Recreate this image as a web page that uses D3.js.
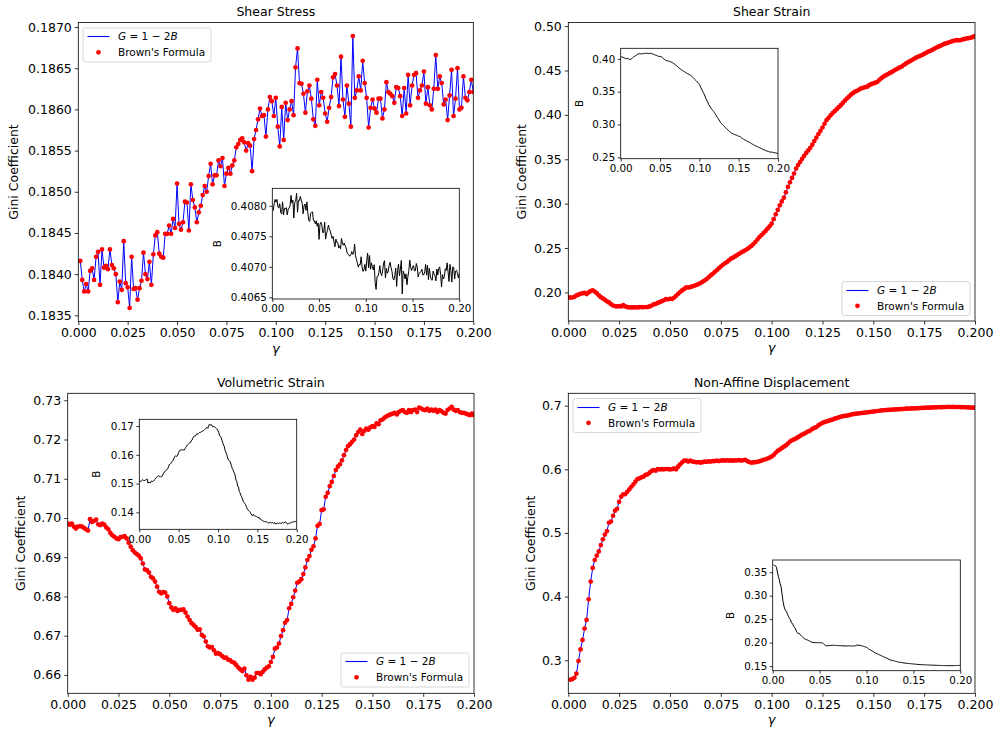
<!DOCTYPE html>
<html><head><meta charset="utf-8">
<script src="https://cdn.jsdelivr.net/npm/d3@7"></script>
<style>body{margin:0;background:#fff;} svg text{font-family:"DejaVu Sans",sans-serif;}</style>
</head><body>
<script>
// ---------------- DATA ----------------
const strainStep = 0.001;
const titles = ["Shear Stress", "Shear Strain", "Volumetric Strain", "Non-Affine Displacement"];
const legendLabels = ["G = 1 \u2212 2B", "Brown's Formula"];
const xLabel = "\u03B3";
const yLabel = "Gini Coefficient";
const insetYLabel = "B";

// Gini coefficient, panel 1 (strain 0.001 .. 0.200)
const shearStressG = [
0.18416,0.18393,0.18379,0.18388,0.18379,0.18404,0.18407,0.18393,0.18421,0.18427,
0.18387,0.18430,0.18408,0.18410,0.18406,0.18430,0.18411,0.18407,0.18400,0.18366,
0.18391,0.18381,0.18440,0.18389,0.18384,0.18359,0.18421,0.18382,0.18383,0.18369,
0.18383,0.18392,0.18426,0.18400,0.18394,0.18415,0.18387,0.18424,0.18447,0.18451,
0.18425,0.18421,0.18420,0.18449,0.18449,0.18459,0.18449,0.18467,0.18456,0.18510,
0.18461,0.18454,0.18463,0.18488,0.18487,0.18453,0.18509,0.18490,0.18481,0.18463,
0.18475,0.18483,0.18496,0.18507,0.18500,0.18519,0.18534,0.18509,0.18520,0.18520,
0.18538,0.18531,0.18541,0.18507,0.18522,0.18529,0.18522,0.18532,0.18538,0.18554,
0.18558,0.18563,0.18565,0.18560,0.18550,0.18559,0.18556,0.18525,0.18564,0.18575,
0.18588,0.18601,0.18592,0.18593,0.18567,0.18600,0.18615,0.18610,0.18592,0.18614,
0.18579,0.18555,0.18603,0.18563,0.18608,0.18587,0.18600,0.18610,0.18593,0.18651,
0.18674,0.18632,0.18631,0.18619,0.18596,0.18622,0.18629,0.18613,0.18588,0.18580,
0.18636,0.18605,0.18621,0.18614,0.18595,0.18585,0.18602,0.18615,0.18639,0.18643,
0.18629,0.18604,0.18664,0.18612,0.18591,0.18629,0.18607,0.18579,0.18689,0.18614,
0.18623,0.18640,0.18623,0.18659,0.18632,0.18614,0.18578,0.18602,0.18612,0.18601,
0.18596,0.18613,0.18613,0.18589,0.18600,0.18633,0.18621,0.18619,0.18616,0.18608,
0.18627,0.18626,0.18616,0.18592,0.18626,0.18595,0.18642,0.18605,0.18629,0.18642,
0.18644,0.18614,0.18623,0.18629,0.18646,0.18607,0.18627,0.18605,0.18600,0.18625,
0.18666,0.18625,0.18640,0.18632,0.18606,0.18612,0.18587,0.18617,0.18648,0.18592,
0.18613,0.18650,0.18600,0.18602,0.18640,0.18614,0.18611,0.18621,0.18636,0.18621];

// Gini coefficient, panel 2 (strain 0.000 .. 0.200)
const shearStrainG = [
0.1944,0.1942,0.1943,0.1950,0.1966,0.1975,0.1985,0.1990,0.1996,0.1982,
0.2000,0.2015,0.2023,0.2010,0.1992,0.1968,0.1947,0.1932,0.1917,0.1900,
0.1887,0.1868,0.1853,0.1846,0.1842,0.1845,0.1842,0.1857,0.1842,0.1835,
0.1831,0.1832,0.1831,0.1833,0.1831,0.1834,0.1835,0.1833,0.1836,0.1835,
0.1842,0.1853,0.1865,0.1872,0.1883,0.1890,0.1902,0.1912,0.1925,0.1922,
0.1929,0.1927,0.1940,0.1962,0.1985,0.2005,0.2023,0.2040,0.2056,0.2055,
0.2060,0.2068,0.2075,0.2085,0.2094,0.2105,0.2120,0.2133,0.2150,0.2170,
0.2192,0.2210,0.2229,0.2250,0.2271,0.2292,0.2312,0.2328,0.2342,0.2362,
0.2380,0.2392,0.2406,0.2420,0.2436,0.2450,0.2462,0.2475,0.2489,0.2505,
0.2523,0.2545,0.2568,0.2596,0.2624,0.2646,0.2669,0.2693,0.2718,0.2745,
0.2774,0.2825,0.2880,0.2930,0.2981,0.3025,0.3068,0.3128,0.3188,0.3240,
0.3290,0.3340,0.3395,0.3435,0.3470,0.3505,0.3540,0.3572,0.3600,0.3630,
0.3665,0.3705,0.3745,0.3785,0.3820,0.3858,0.3900,0.3940,0.3968,0.3995,
0.4020,0.4042,0.4064,0.4087,0.4110,0.4135,0.4160,0.4184,0.4205,0.4228,
0.4245,0.4262,0.4272,0.4285,0.4298,0.4305,0.4312,0.4318,0.4335,0.4346,
0.4355,0.4363,0.4372,0.4395,0.4414,0.4430,0.4445,0.4458,0.4470,0.4481,
0.4497,0.4510,0.4522,0.4535,0.4545,0.4562,0.4578,0.4592,0.4605,0.4618,
0.4632,0.4645,0.4655,0.4665,0.4675,0.4688,0.4700,0.4712,0.4722,0.4732,
0.4745,0.4758,0.4768,0.4778,0.4790,0.4800,0.4808,0.4815,0.4824,0.4832,
0.4838,0.4842,0.4840,0.4843,0.4850,0.4856,0.4861,0.4865,0.4870,0.4878,
0.4888];

// Gini coefficient, panel 3 (strain 0.000 .. 0.200)
const volumetricStrainG = [
0.6986,0.6983,0.6986,0.6978,0.6973,0.6978,0.6979,0.6978,0.6975,0.6971,
0.6968,0.6997,0.6990,0.6993,0.6996,0.6984,0.6982,0.6986,0.6983,0.6976,
0.6971,0.6962,0.6956,0.6952,0.6948,0.6946,0.6951,0.6952,0.6954,0.6948,
0.6937,0.6927,0.6918,0.6912,0.6908,0.6904,0.6897,0.6884,0.6869,0.6867,
0.6861,0.6850,0.6846,0.6838,0.6825,0.6812,0.6808,0.6811,0.6810,0.6800,
0.6783,0.6772,0.6766,0.6770,0.6763,0.6766,0.6766,0.6767,0.6759,0.6749,
0.6740,0.6732,0.6727,0.6722,0.6715,0.6716,0.6702,0.6698,0.6685,0.6673,
0.6670,0.6671,0.6663,0.6654,0.6656,0.6653,0.6648,0.6644,0.6644,0.6639,
0.6637,0.6633,0.6631,0.6625,0.6619,0.6614,0.6610,0.6616,0.6599,0.6588,
0.6595,0.6588,0.6593,0.6605,0.6605,0.6602,0.6608,0.6614,0.6619,0.6622,
0.6633,0.6646,0.6667,0.6670,0.6680,0.6699,0.6714,0.6733,0.6740,0.6770,
0.6781,0.6798,0.6815,0.6835,0.6838,0.6844,0.6857,0.6874,0.6893,0.6903,
0.6919,0.6928,0.6948,0.6980,0.6985,0.7020,0.7022,0.7054,0.7064,0.7081,
0.7092,0.7107,0.7122,0.7131,0.7137,0.7147,0.7160,0.7173,0.7183,0.7188,
0.7194,0.7200,0.7211,0.7219,0.7225,0.7214,0.7222,0.7228,0.7225,0.7231,
0.7234,0.7232,0.7241,0.7239,0.7249,0.7251,0.7256,0.7259,0.7262,0.7264,
0.7266,0.7268,0.7264,0.7270,0.7273,0.7275,0.7270,0.7268,0.7275,0.7270,
0.7275,0.7276,0.7270,0.7281,0.7279,0.7276,0.7275,0.7279,0.7273,0.7276,
0.7273,0.7276,0.7270,0.7275,0.7272,0.7268,0.7266,0.7275,0.7279,0.7283,
0.7276,0.7273,0.7275,0.7270,0.7268,0.7268,0.7266,0.7264,0.7262,0.7266,
0.7262];

// Gini coefficient, panel 4 (strain 0.001 .. 0.200)
const nonAffineG = [
0.2695,0.2705,0.2725,0.2790,0.2990,0.3170,0.3319,0.3497,0.3634,0.3958,
0.4236,0.4450,0.4575,0.4645,0.4710,0.4810,0.4900,0.4975,0.5030,0.5160,
0.5180,0.5270,0.5350,0.5380,0.5490,0.5570,0.5605,0.5611,0.5647,0.5684,
0.5726,0.5763,0.5805,0.5847,0.5858,0.5874,0.5884,0.5911,0.5921,0.5947,
0.5974,0.5989,0.5979,0.6005,0.5998,0.6002,0.5998,0.6005,0.6003,0.5998,
0.6001,0.6016,0.6000,0.6042,0.6079,0.6111,0.6137,0.6135,0.6121,0.6137,
0.6121,0.6118,0.6110,0.6115,0.6105,0.6112,0.6120,0.6118,0.6125,0.6122,
0.6130,0.6128,0.6135,0.6130,0.6138,0.6140,0.6135,0.6142,0.6138,0.6140,
0.6135,0.6142,0.6140,0.6145,0.6138,0.6142,0.6147,0.6130,0.6115,0.6105,
0.6108,0.6112,0.6118,0.6125,0.6135,0.6150,0.6158,0.6170,0.6185,0.6200,
0.6225,0.6260,0.6290,0.6310,0.6332,0.6355,0.6375,0.6405,0.6435,0.6455,
0.6470,0.6485,0.6505,0.6525,0.6545,0.6560,0.6578,0.6595,0.6610,0.6635,
0.6650,0.6663,0.6690,0.6712,0.6730,0.6742,0.6753,0.6762,0.6772,0.6782,
0.6795,0.6805,0.6815,0.6826,0.6835,0.6838,0.6843,0.6850,0.6860,0.6866,
0.6870,0.6875,0.6880,0.6883,0.6888,0.6892,0.6895,0.6900,0.6904,0.6907,
0.6912,0.6916,0.6920,0.6925,0.6928,0.6930,0.6933,0.6935,0.6937,0.6940,
0.6941,0.6943,0.6945,0.6947,0.6949,0.6952,0.6953,0.6955,0.6956,0.6957,
0.6958,0.6960,0.6962,0.6964,0.6966,0.6968,0.6969,0.6970,0.6972,0.6973,
0.6974,0.6975,0.6976,0.6977,0.6978,0.6979,0.6980,0.6979,0.6980,0.6979,
0.6978,0.6979,0.6977,0.6976,0.6975,0.6974,0.6973,0.6970,0.6969,0.6968];

// Tick labels
const mainXTicks = [0, 0.025, 0.05, 0.075, 0.1, 0.125, 0.15, 0.175, 0.2];
const insetXTicks = [0, 0.05, 0.1, 0.15, 0.2];
const yTicks1 = [0.1835, 0.1840, 0.1845, 0.1850, 0.1855, 0.1860, 0.1865, 0.1870];
const yTicks2 = [0.20, 0.25, 0.30, 0.35, 0.40, 0.45, 0.50];
const yTicks3 = [0.66, 0.67, 0.68, 0.69, 0.70, 0.71, 0.72, 0.73];
const yTicks4 = [0.3, 0.4, 0.5, 0.6, 0.7];
const insetYTicks1 = [0.4065, 0.4070, 0.4075, 0.4080];
const insetYTicks2 = [0.25, 0.30, 0.35, 0.40];
const insetYTicks3 = [0.14, 0.15, 0.16, 0.17];
const insetYTicks4 = [0.15, 0.20, 0.25, 0.30, 0.35];

// ---------------- LAYOUT ----------------
const panels = [
  {id:1, title:titles[0], G:shearStressG, start:1, left:78.3, right:473.3, top:22.5, bottom:321.5,
   yTicks:yTicks1, yFmt:".4f", yLabelX:13, legend:{x:83, y:28},
   inset:{left:272.3, right:459.3, top:188.3, bottom:299, yTicks:insetYTicks1, yFmt:".4f", labX:217}},
  {id:2, title:titles[1], G:shearStrainG, start:0, left:568.3, right:975, top:22.5, bottom:321,
   yTicks:yTicks2, yFmt:".2f", yLabelX:521, legend:{x:842, y:281.5},
   inset:{left:620.7, right:778, top:48.3, bottom:158.7, yTicks:insetYTicks2, yFmt:".2f", labX:579.5}},
  {id:3, title:titles[2], G:volumetricStrainG, start:0, left:67.7, right:474, top:393.3, bottom:693.3,
   yTicks:yTicks3, yFmt:".2f", yLabelX:20, legend:{x:341, y:653},
   inset:{left:139.3, right:296.7, top:419.3, bottom:529.3, yTicks:insetYTicks3, yFmt:".2f", labX:96.5}},
  {id:4, title:titles[3], G:nonAffineG, start:1, left:568.3, right:975, top:393.3, bottom:693.3,
   yTicks:yTicks4, yFmt:".1f", yLabelX:530, legend:{x:573, y:398.5},
   inset:{left:772.7, right:960.3, top:560, bottom:670.7, yTicks:insetYTicks4, yFmt:".2f", labX:730}}
];

const FONT = "DejaVu Sans";
const svg = d3.select("body").append("svg").attr("width", 995).attr("height", 731)
  .style("display", "block");
svg.append("rect").attr("width", 995).attr("height", 731).attr("fill", "#fff");
const defs = svg.append("defs");

function styleAxis(g, fs) {
  g.attr("font-family", FONT).attr("font-size", fs);
  g.select(".domain").remove();
  g.selectAll(".tick line").attr("stroke", "#000").attr("stroke-width", 0.8);
  g.selectAll(".tick text").attr("fill", "#000");
}

function paddedDomain(vals) {
  const [lo, hi] = d3.extent(vals);
  const m = (hi - lo) * 0.05;
  return [lo - m, hi + m];
}

function drawPanel(c) {
  const data = c.G.map((g, i) => ({x: (i + c.start) * strainStep, g}));
  const x = d3.scaleLinear().domain([0, 0.2]).range([c.left, c.right]);
  const y = d3.scaleLinear().domain(paddedDomain(c.G)).range([c.bottom, c.top]);
  const w = c.right - c.left, h = c.bottom - c.top;

  defs.append("clipPath").attr("id", "mainclip" + c.id)
    .append("rect").attr("x", c.left).attr("y", c.top).attr("width", w).attr("height", h);
  const plot = svg.append("g").attr("clip-path", `url(#mainclip${c.id})`);
  plot.append("path").datum(data)
    .attr("d", d3.line().x(d => x(d.x)).y(d => y(d.g)))
    .attr("fill", "none").style("stroke", "#0000ff").attr("stroke-width", 1);
  plot.selectAll("circle").data(data).join("circle")
    .attr("cx", d => x(d.x)).attr("cy", d => y(d.g)).attr("r", 2.35).attr("fill", "#ff0000");

  const xa = svg.append("g").attr("transform", `translate(0,${c.bottom})`)
    .call(d3.axisBottom(x).tickValues(mainXTicks).tickFormat(d3.format(".3f")).tickSize(3.5).tickPadding(3.5));
  styleAxis(xa, 12.5);
  const ya = svg.append("g").attr("transform", `translate(${c.left},0)`)
    .call(d3.axisLeft(y).tickValues(c.yTicks).tickFormat(d3.format(c.yFmt)).tickSize(3.5).tickPadding(3));
  styleAxis(ya, 12.5);

  svg.append("rect").attr("x", c.left).attr("y", c.top).attr("width", w).attr("height", h)
    .attr("fill", "none").attr("stroke", "#000").attr("stroke-width", 0.8);

  svg.append("text").attr("x", (c.left + c.right) / 2).attr("y", c.top - 6.3)
    .attr("text-anchor", "middle").attr("font-size", 12.5).attr("fill", "#000").text(c.title);
  svg.append("text").attr("x", (c.left + c.right) / 2).attr("y", c.bottom + 31)
    .attr("text-anchor", "middle").attr("font-size", 13).attr("font-style", "italic").attr("fill", "#000").text(xLabel);
  svg.append("text").attr("transform", `translate(${c.yLabelX},${(c.top + c.bottom) / 2}) rotate(-90)`)
    .attr("dy", "0.36em").attr("text-anchor", "middle").attr("font-size", 12.5).attr("fill", "#000").text(yLabel);

  drawInset(c);
}

function drawLegend(bx, by) {
  const g = svg.append("g");
  g.append("rect").attr("x", bx).attr("y", by).attr("width", 128).attr("height", 34).attr("rx", 2.5)
    .attr("fill", "#fff").attr("fill-opacity", 0.8).attr("stroke", "#cccccc").attr("stroke-width", 0.8);
  g.append("path").attr("d", `M${bx + 4.5},${Math.round(by + 8) + 0.5}H${bx + 26.5}`)
    .attr("fill", "none").attr("stroke", "#0000ff").attr("stroke-width", 1.1);
  const t = g.append("text").attr("x", bx + 35).attr("y", by + 12.3).attr("font-size", 10.5).attr("fill", "#000");
  const parts = legendLabels[0].split(" ");
  t.append("tspan").attr("font-style", "italic").text(parts[0]);
  t.append("tspan").text(" " + parts.slice(1, 4).join(" ") + " " + parts[4].slice(0, 1));
  t.append("tspan").attr("font-style", "italic").text(parts[4].slice(1));
  g.append("circle").attr("cx", bx + 15.5).attr("cy", by + 24.3).attr("r", 2.35).attr("fill", "#ff0000");
  g.append("text").attr("x", bx + 35).attr("y", by + 28.3).attr("font-size", 10.5).attr("fill", "#000")
    .text(legendLabels[1]);
}

function drawInset(c) {
  const s = c.inset;
  // B series from the legend relation G = 1 - 2B
  const B = c.G.map(g => (1 - g) / 2);
  const data = B.map((b, i) => ({x: (i + c.start) * strainStep, b}));
  const x = d3.scaleLinear().domain([0, 0.2]).range([s.left, s.right]);
  const y = d3.scaleLinear().domain(paddedDomain(B)).range([s.bottom, s.top]);
  const w = s.right - s.left, h = s.bottom - s.top;
  svg.append("rect").attr("x", s.left).attr("y", s.top).attr("width", w).attr("height", h).attr("fill", "#fff");
  defs.append("clipPath").attr("id", "insetclip" + c.id)
    .append("rect").attr("x", s.left).attr("y", s.top).attr("width", w).attr("height", h);
  svg.append("g").attr("clip-path", `url(#insetclip${c.id})`).append("path").datum(data)
    .attr("d", d3.line().x(d => x(d.x)).y(d => y(d.b)))
    .attr("fill", "none").attr("stroke", "#000").attr("stroke-width", 1);
  const xa = svg.append("g").attr("transform", `translate(0,${s.bottom})`)
    .call(d3.axisBottom(x).tickValues(insetXTicks).tickFormat(d3.format(".2f")).tickSize(3).tickPadding(3));
  styleAxis(xa, 10.3);
  const ya = svg.append("g").attr("transform", `translate(${s.left},0)`)
    .call(d3.axisLeft(y).tickValues(s.yTicks).tickFormat(d3.format(s.yFmt)).tickSize(3).tickPadding(2.5));
  styleAxis(ya, 10.3);
  svg.append("rect").attr("x", s.left).attr("y", s.top).attr("width", w).attr("height", h)
    .attr("fill", "none").attr("stroke", "#000").attr("stroke-width", 0.8);
  svg.append("text").attr("transform", `translate(${s.labX},${(s.top + s.bottom) / 2}) rotate(-90)`)
    .attr("dy", "0.36em").attr("text-anchor", "middle").attr("font-size", 10.3).attr("fill", "#000").text(insetYLabel);
}

panels.forEach(drawPanel);
panels.forEach(c => drawLegend(c.legend.x, c.legend.y));
</script>
</body></html>
